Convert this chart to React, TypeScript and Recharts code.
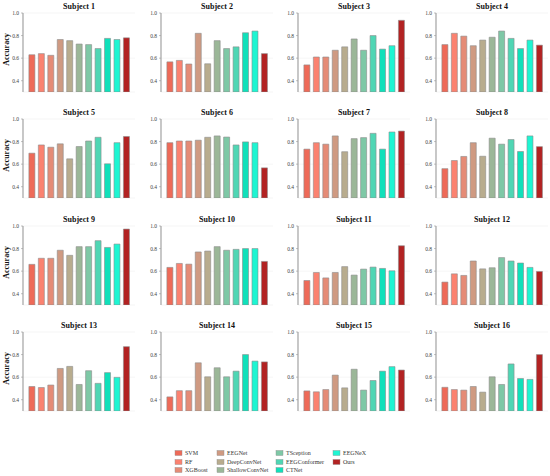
import React from 'react';
import { BarChart, Bar, XAxis, YAxis, CartesianGrid, Cell } from 'recharts';

const methods = ['SVM', 'RF', 'XGBoost', 'EEGNet', 'DeepConvNet', 'ShallowConvNet', 'TSception', 'EEGConformer', 'CTNet', 'EEGNeX', 'Ours'];
const colors = ['#EE6A58', '#FB8270', '#E58B76', '#CF9A82', '#B8AC8E', '#9BB798', '#7EC8A6', '#4FD6B4', '#10E0BA', '#1EF5D2', '#B22222'];

const subject1 = [0.63, 0.64, 0.625, 0.765, 0.755, 0.725, 0.72, 0.685, 0.775, 0.765, 0.78];
const subject2 = [0.567, 0.58, 0.548, 0.82, 0.55, 0.755, 0.685, 0.70, 0.825, 0.84, 0.64];
const subject3 = [0.54, 0.61, 0.61, 0.67, 0.70, 0.77, 0.67, 0.80, 0.68, 0.71, 0.935];
const subject4 = [0.72, 0.82, 0.795, 0.71, 0.76, 0.785, 0.84, 0.775, 0.685, 0.76, 0.715];
const subject5 = [0.697, 0.77, 0.75, 0.78, 0.647, 0.756, 0.805, 0.838, 0.603, 0.79, 0.845];
const subject6 = [0.79, 0.805, 0.805, 0.812, 0.838, 0.85, 0.84, 0.77, 0.797, 0.79, 0.567];
const subject7 = [0.733, 0.79, 0.777, 0.85, 0.71, 0.826, 0.835, 0.873, 0.733, 0.885, 0.893];
const subject8 = [0.56, 0.632, 0.668, 0.79, 0.67, 0.83, 0.777, 0.818, 0.712, 0.85, 0.755];
const subject9 = [0.66, 0.714, 0.714, 0.785, 0.74, 0.817, 0.817, 0.87, 0.81, 0.84, 0.973];
const subject10 = [0.633, 0.668, 0.662, 0.77, 0.778, 0.817, 0.785, 0.793, 0.80, 0.80, 0.686];
const subject11 = [0.517, 0.588, 0.54, 0.588, 0.64, 0.565, 0.618, 0.636, 0.624, 0.603, 0.825];
const subject12 = [0.503, 0.576, 0.562, 0.69, 0.62, 0.63, 0.72, 0.69, 0.672, 0.633, 0.597];
const subject13 = [0.517, 0.508, 0.53, 0.677, 0.695, 0.535, 0.657, 0.545, 0.64, 0.598, 0.87];
const subject14 = [0.425, 0.48, 0.48, 0.727, 0.603, 0.683, 0.603, 0.653, 0.80, 0.742, 0.735];
const subject15 = [0.478, 0.47, 0.49, 0.618, 0.505, 0.67, 0.485, 0.57, 0.653, 0.693, 0.663];
const subject16 = [0.51, 0.49, 0.485, 0.517, 0.467, 0.603, 0.535, 0.717, 0.588, 0.58, 0.80];

const subjects = [subject1, subject2, subject3, subject4, subject5, subject6, subject7, subject8,
  subject9, subject10, subject11, subject12, subject13, subject14, subject15, subject16];
const titles = subjects.map((_, i) => `Subject ${i + 1}`);
const yTicks = [0.4, 0.6, 0.8, 1.0];

const FONT = '"Liberation Serif", "Times New Roman", serif';
const colLefts = [0, 138, 275, 413];
const rowTops = [0, 106, 213, 319];
const CHART_W = 140;
const CHART_H = 100;
const M_TOP = 13;
const M_LEFT = 3;
const M_RIGHT = 5;
const M_BOTTOM = 8;
const YW = 20;

function Panel({ values, title, x, y, showYLabel }: { values: number[]; title: string; x: number; y: number; showYLabel: boolean }) {
  const data = methods.map((m, i) => ({ method: m, acc: values[i] }));
  const plotL = M_LEFT + YW;
  const plotW = CHART_W - plotL - M_RIGHT;
  const plotH = CHART_H - M_TOP - M_BOTTOM;
  return (
    <div style={{ position: 'absolute', left: x, top: y, width: CHART_W, height: CHART_H }}>
      <BarChart width={CHART_W} height={CHART_H} data={data}
        margin={{ top: M_TOP, right: M_RIGHT, bottom: M_BOTTOM, left: M_LEFT }}
        barCategoryGap="20%">
        <CartesianGrid horizontal vertical={false} stroke="#eeeeee" strokeWidth={0.6} />
        <XAxis dataKey="method" tick={false} tickLine={false} height={0}
          axisLine={{ stroke: '#666', strokeWidth: 1 }} padding={{ left: 4, right: 4 }} />
        <YAxis domain={[0.3, 1.0]} ticks={yTicks} allowDataOverflow width={YW}
          tickFormatter={(v: number) => v.toFixed(1)} tickSize={2}
          tick={{ fontSize: 5.5, fill: '#444', fontFamily: FONT }}
          tickLine={{ stroke: '#999', strokeWidth: 0.6 }}
          axisLine={{ stroke: '#b0b0b0', strokeWidth: 1.4 }} />
        <Bar dataKey="acc" isAnimationActive={false} stroke="#8c8c8c" strokeWidth={0.6}>
          {data.map((d, i) => (
            <Cell key={d.method} fill={colors[i]} />
          ))}
        </Bar>
      </BarChart>
      <svg width={CHART_W} height={CHART_H} style={{ position: 'absolute', left: 0, top: 0, pointerEvents: 'none' }}>
        <text x={plotL + plotW / 2} y={M_TOP - 4} textAnchor="middle" fontFamily={FONT}
          fontWeight="bold" fontSize={8} fill="#111">{title}</text>
        {showYLabel && (
          <text x={0} y={0} transform={`translate(8.5, ${M_TOP + plotH / 2 - 3}) rotate(-90)`}
            textAnchor="middle" fontFamily={FONT} fontWeight="bold" fontSize={8} fill="#111">Accuracy</text>
        )}
      </svg>
    </div>
  );
}

const legendCols = [175, 217, 276, 333];
const legendRows = [453, 462, 470];
const legendLayout = [[0, 1, 2], [3, 4, 5], [6, 7, 8], [9, 10]];

function Legend() {
  return (
    <svg width={550} height={476} style={{ position: 'absolute', left: 0, top: 0, pointerEvents: 'none' }}>
      {legendLayout.map((col, ci) =>
        col.map((mi, ri) => (
          <g key={methods[mi]}>
            <rect x={legendCols[ci]} y={legendRows[ri] - 2.5} width={7} height={5}
              fill={colors[mi]} stroke="#8c8c8c" strokeWidth={0.4} />
            <text x={legendCols[ci] + 10} y={legendRows[ri] + 2} fontFamily={FONT}
              fontSize={6} fill="#333">{methods[mi]}</text>
          </g>
        ))
      )}
    </svg>
  );
}

export default function App() {
  return (
    <div style={{ position: 'absolute', left: 0, top: 0, width: 550, height: 476, background: '#fff', overflow: 'hidden' }}>
      {subjects.map((vals, i) => (
        <Panel key={titles[i]} values={vals} title={titles[i]}
          x={colLefts[i % 4]} y={rowTops[Math.floor(i / 4)]} showYLabel={i % 4 === 0} />
      ))}
      <Legend />
    </div>
  );
}
